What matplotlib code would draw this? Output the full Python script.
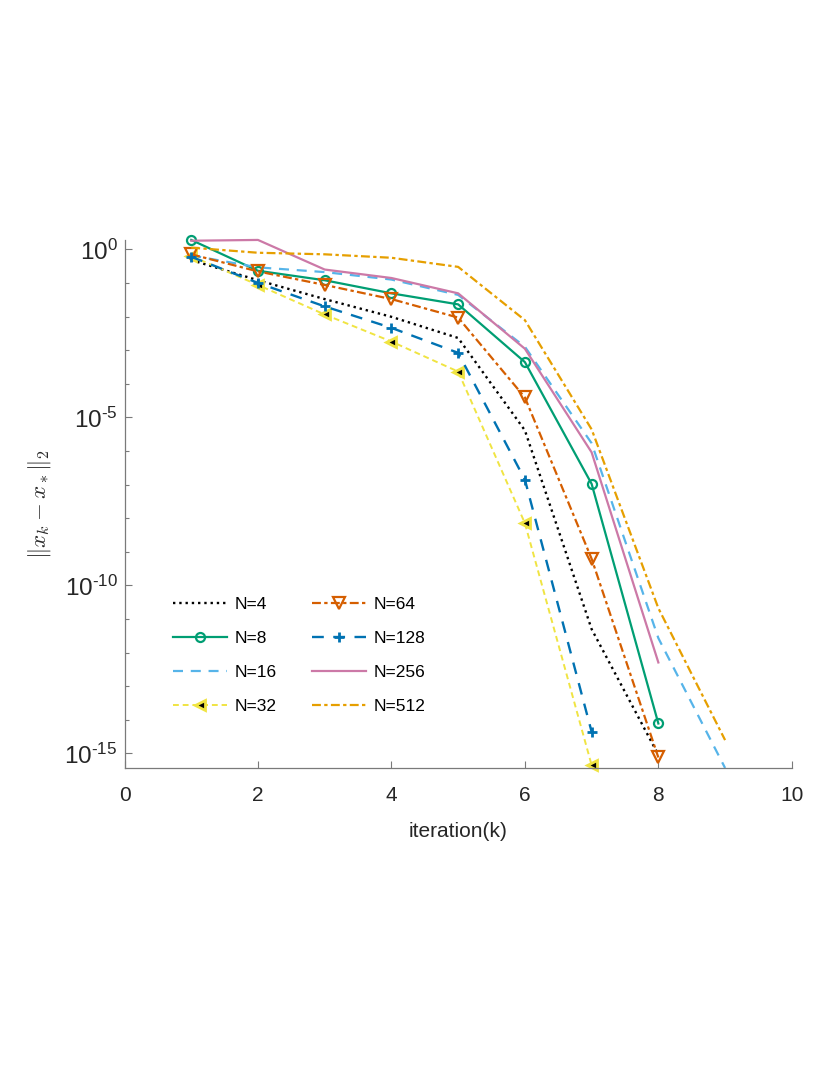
import matplotlib
matplotlib.use("Agg")
import matplotlib.pyplot as plt

plt.rcParams['font.family'] = ['Liberation Sans', 'DejaVu Sans']
plt.rcParams['mathtext.fontset'] = 'custom'
plt.rcParams['mathtext.rm'] = 'Liberation Sans'
plt.rcParams['mathtext.it'] = 'Liberation Sans:italic'

# данные: номера итераций и ошибки ||x_k - x_*||_2
iters = [1, 2, 3, 4, 5, 6, 7, 8, 9]

err_4 = [4.8e-1, 1.2e-1, 3.3e-2, 9.8e-3, 2.3e-3, 4.1e-6, 5.0e-12, 9.1e-16]
err_8 = [1.9, 2.3e-1, 1.2e-1, 4.9e-2, 2.3e-2, 4.4e-4, 1.05e-7, 7.8e-15]
err_16 = [6.6e-1, 2.9e-1, 2.1e-1, 1.26e-1, 4.4e-2, 1.26e-3, 1.7e-6, 2.7e-12, 3.7e-16]
err_32 = [6.3e-1, 8.7e-2, 1.15e-2, 1.8e-3, 2.3e-4, 7.1e-9, 4.5e-16]
err_64 = [7.1e-1, 2.2e-1, 8.7e-2, 3.3e-2, 9.3e-3, 3.9e-5, 6.2e-10, 7.6e-16]
err_128 = [6.0e-1, 1.0e-1, 2.0e-2, 4.6e-3, 8.3e-4, 1.4e-7, 4.4e-15]
err_256 = [1.8, 1.9, 2.5e-1, 1.4e-1, 4.9e-2, 1.1e-3, 9.1e-7, 5.1e-13]
err_512 = [1.12, 7.9e-1, 7.1e-1, 5.6e-1, 3.0e-1, 7.8e-3, 4.4e-6, 2.1e-11, 2.5e-15]

labels = ["N=4", "N=8", "N=16", "N=32", "N=64", "N=128", "N=256", "N=512"]
series = [err_4, err_8, err_16, err_32, err_64, err_128, err_256, err_512]

# стили линий
colors = ['#000000', '#009E73', '#56B4E9', '#F0E442',
          '#D55E00', '#0072B2', '#CC79A7', '#E69F00']
styles = [
    dict(ls=':', lw=1.7),
    dict(ls='-', lw=1.6, marker='o', mfc='none', ms=6.5, mew=1.6),
    dict(ls=(0, (4.5, 3.5)), lw=1.6),
    dict(ls=(0, (3, 2)), lw=1.4, marker='<', mfc='k', ms=7.5, mew=2),
    dict(ls=(0, (4, 1.5, 1.5, 1.5)), lw=1.6, marker='v', mfc='none', ms=8, mew=1.6),
    dict(ls=(0, (5, 4)), lw=1.7, marker='+', ms=7, mew=2),
    dict(ls='-', lw=1.6),
    dict(ls=(0, (4, 1.5, 1.5, 1.5)), lw=1.6),
]

fig = plt.figure(figsize=(8.3, 10.75), dpi=100)
ax = fig.add_axes([0.150, 0.2856, 0.804, 0.4912])

for lab, ys, c, st in zip(labels, series, colors, styles):
    ax.semilogy(iters[:len(ys)], ys, color=c, label=lab, clip_on=False, **st)

# оси
all_vals = [v for ys in series for v in ys]
ax.set_xlim(0, 10)
ax.set_ylim(min(all_vals), max(all_vals))
ax.set_xticks([0, 2, 4, 6, 8, 10])
ax.set_yticks([1e0, 1e-5, 1e-10, 1e-15])
ax.set_yticklabels([r'$\mathregular{10^{0}}$', '$\\mathregular{10^{\u20105}}$',
                    '$\\mathregular{10^{\u201010}}$', '$\\mathregular{10^{\u201015}}$'])
ax.set_yticks([10.0 ** k for k in range(-15, 1)], minor=True)
ax.yaxis.set_minor_formatter(matplotlib.ticker.NullFormatter())

for s in ['top', 'right']:
    ax.spines[s].set_visible(False)
for s in ['left', 'bottom']:
    ax.spines[s].set_color('#7a7a7a')
    ax.spines[s].set_linewidth(0.9)

ax.tick_params(axis='both', which='major', direction='in', length=5,
               width=0.8, color='#7a7a7a', labelcolor='#262626', pad=8)
ax.tick_params(axis='x', labelsize=15, pad=13)
ax.tick_params(axis='y', labelsize=17.5, pad=5)
ax.tick_params(axis='y', which='minor', direction='in', length=3,
               width=0.8, color='#7a7a7a')

ax.set_xlabel("iteration(k)", fontsize=15, color='#262626', labelpad=12)
ax.set_ylabel(r'$\Vert x_k - x_* \Vert_2$', fontsize=16.5, color='#262626',
              labelpad=8, math_fontfamily='cm')

ax.legend(ncol=2, frameon=False, fontsize=12.5, loc='upper left',
          bbox_to_anchor=(0.062, 0.338), borderaxespad=0, handlelength=3.1,
          handletextpad=0.45, labelspacing=1.1, columnspacing=2.05)

fig.savefig("out.png", dpi=100)
